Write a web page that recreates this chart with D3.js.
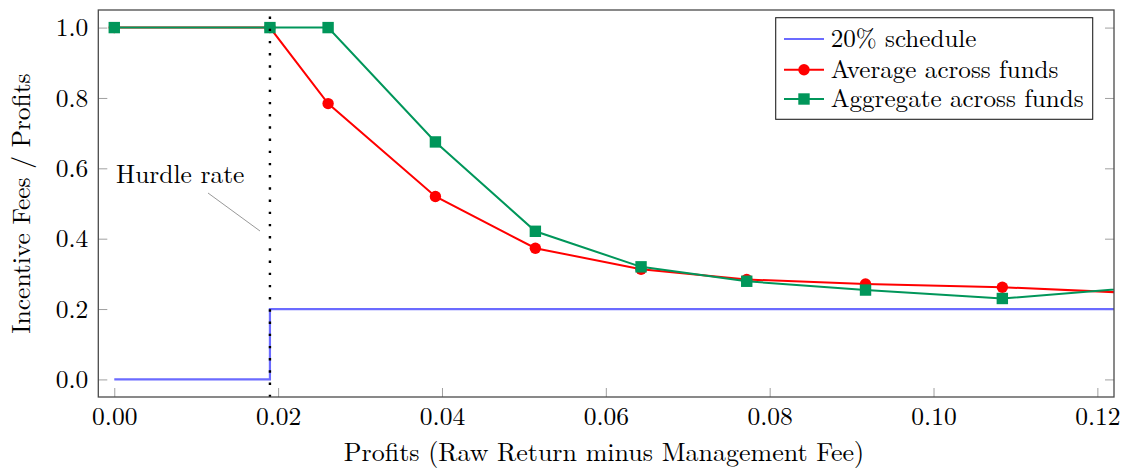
<!DOCTYPE html>
<html>
<head>
<meta charset="utf-8">
<script src="https://cdn.jsdelivr.net/npm/d3@7"></script>
<style>
  body { margin: 0; background: #fff; }
  svg { display: block; }
</style>
</head>
<body>
<svg id="chart" width="1121" height="468"></svg>
<script>
// Tick positions
const xTicks = [0, 0.02, 0.04, 0.06, 0.08, 0.10, 0.12];
const yTicks = [0, 0.2, 0.4, 0.6, 0.8, 1.0];

// Hurdle rate
const hurdle = 0.019;

// 20% schedule (step at the hurdle)
const scheduleX = [0, 0.019, 0.019, 0.13];
const scheduleY = [0, 0, 0.2, 0.2];

// Average across funds
const averageX = [0, 0.019, 0.0261, 0.0392, 0.0514, 0.0643, 0.0772, 0.0917, 0.1084, 0.128];
const averageY = [1.0, 1.0, 0.784, 0.520, 0.373, 0.313, 0.284, 0.271, 0.262, 0.242];

// Aggregate across funds
const aggregateX = [0, 0.019, 0.0261, 0.0392, 0.0514, 0.0643, 0.0772, 0.0917, 0.1084, 0.128];
const aggregateY = [1.0, 1.0, 1.0, 0.675, 0.421, 0.320, 0.279, 0.254, 0.230, 0.267];

const legendLabels = ["20% schedule", "Average across funds", "Aggregate across funds"];

const colors = { schedule: "#6b6bff", average: "#ff0000", aggregate: "#00965a" };

const svg = d3.select("#chart");
const plot = { left: 98.3, right: 1114, top: 10, bottom: 397 };

const x = d3.scaleLinear().domain([-0.00195, 0.12203]).range([plot.left, plot.right]);
const y = d3.scaleLinear().domain([-0.05, 1.05]).range([plot.bottom, plot.top]);

const FS = 25.5;
const FS_LEGEND = 25.1;
const FONT = "Latin Modern Roman";

// Clip region for data
svg.append("defs").append("clipPath").attr("id", "plotArea")
  .append("rect")
  .attr("x", plot.left).attr("y", plot.top)
  .attr("width", plot.right - plot.left).attr("height", plot.bottom - plot.top);

// Axes (ticks point inward)
const xAxis = d3.axisBottom(x).tickValues(xTicks).tickFormat(d3.format(".2f"))
  .tickSizeInner(-9).tickSizeOuter(0).tickPadding(9.5);
const yAxis = d3.axisLeft(y).tickValues(yTicks).tickFormat(d3.format(".1f"))
  .tickSizeInner(-9).tickSizeOuter(0).tickPadding(10);
const yAxisRight = d3.axisRight(y).tickValues(yTicks).tickFormat("")
  .tickSizeInner(-9).tickSizeOuter(0);

function styleAxis(g) {
  g.attr("font-family", FONT).attr("font-size", FS);
  g.select(".domain").remove();
  g.selectAll(".tick line").attr("stroke", "#a0a0a0").attr("stroke-width", 1);
  g.selectAll(".tick text").attr("font-family", FONT).attr("font-size", FS).attr("fill", "#000");
}

svg.append("g").attr("transform", `translate(0,${plot.bottom})`).call(xAxis).call(styleAxis);
svg.append("g").attr("transform", `translate(${plot.left},0)`).call(yAxis).call(styleAxis);
svg.append("g").attr("transform", `translate(${plot.right},0)`).call(yAxisRight).call(styleAxis);

const zipXY = (xs, ys) => xs.map((v, i) => [v, ys[i]]);

const line = d3.line().x(d => x(d[0])).y(d => y(d[1]));
const marks = svg.append("g").attr("clip-path", "url(#plotArea)");

// 20% schedule
marks.append("path")
  .attr("d", line(zipXY(scheduleX, scheduleY)))
  .attr("fill", "none").attr("stroke", colors.schedule).attr("stroke-width", 2.2);

// Hurdle rate marker line
svg.append("line")
  .attr("x1", x(hurdle)).attr("x2", x(hurdle))
  .attr("y1", plot.top).attr("y2", plot.bottom)
  .attr("stroke", "#000").attr("stroke-width", 2.4)
  .attr("stroke-dasharray", "2.4 9.8").attr("stroke-dashoffset", 5.7);

// Average across funds
const avg = zipXY(averageX, averageY);
marks.append("path").attr("d", line(avg))
  .attr("fill", "none").attr("stroke", colors.average).attr("stroke-width", 2);
marks.selectAll("circle.avg").data(avg).join("circle").attr("class", "avg")
  .attr("cx", d => x(d[0])).attr("cy", d => y(d[1])).attr("r", 5.7)
  .attr("fill", colors.average);

// Aggregate across funds
const agg = zipXY(aggregateX, aggregateY);
marks.append("path").attr("d", line(agg))
  .attr("fill", "none").attr("stroke", colors.aggregate).attr("stroke-width", 2);
marks.selectAll("rect.agg").data(agg).join("rect").attr("class", "agg")
  .attr("x", d => x(d[0]) - 5.7).attr("y", d => y(d[1]) - 5.7)
  .attr("width", 11.4).attr("height", 11.4)
  .attr("fill", colors.aggregate);

// Frame
svg.append("rect")
  .attr("x", plot.left).attr("y", plot.top)
  .attr("width", plot.right - plot.left).attr("height", plot.bottom - plot.top)
  .attr("fill", "none").attr("stroke", "#4a4a4a").attr("stroke-width", 1.3);

function label(sel, size = FS) {
  return sel.attr("font-size", size).attr("font-family", FONT).attr("fill", "#000");
}

// Hurdle rate annotation
svg.append("line")
  .attr("x1", 208).attr("y1", 193).attr("x2", 260).attr("y2", 231)
  .attr("stroke", "#8c8c8c").attr("stroke-width", 0.9);
svg.append("text").attr("x", 116).attr("y", 183).call(label).text("Hurdle rate");

// Legend
const legend = svg.append("g");
legend.append("rect")
  .attr("x", 775.7).attr("y", 17.7).attr("width", 317).attr("height", 101.6)
  .attr("fill", "#fff").attr("stroke", "#222").attr("stroke-width", 1.1);
const rowY = [39, 69.7, 99];
const legendColors = [colors.schedule, colors.average, colors.aggregate];
legendLabels.forEach((name, i) => {
  const cy = rowY[i];
  legend.append("line").attr("x1", 784).attr("x2", 824).attr("y1", cy).attr("y2", cy)
    .attr("stroke", legendColors[i]).attr("stroke-width", i === 0 ? 2.2 : 2);
  if (i === 1) {
    legend.append("circle").attr("cx", 804).attr("cy", cy).attr("r", 5.7).attr("fill", legendColors[i]);
  } else if (i === 2) {
    legend.append("rect").attr("x", 804 - 5.7).attr("y", cy - 5.7).attr("width", 11.4).attr("height", 11.4)
      .attr("fill", legendColors[i]);
  }
  legend.append("text").attr("x", 830.7).attr("y", cy + 8.3).call(label, FS_LEGEND).text(name);
});

// Axis titles
svg.append("text")
  .attr("x", 604).attr("y", 461)
  .attr("text-anchor", "middle").call(label, 26)
  .text("Profits (Raw Return minus Management Fee)");
svg.append("text")
  .attr("transform", `translate(30,203.5) rotate(-90)`)
  .attr("text-anchor", "middle").call(label)
  .text("Incentive Fees / Profits");
</script>
</body>
</html>
